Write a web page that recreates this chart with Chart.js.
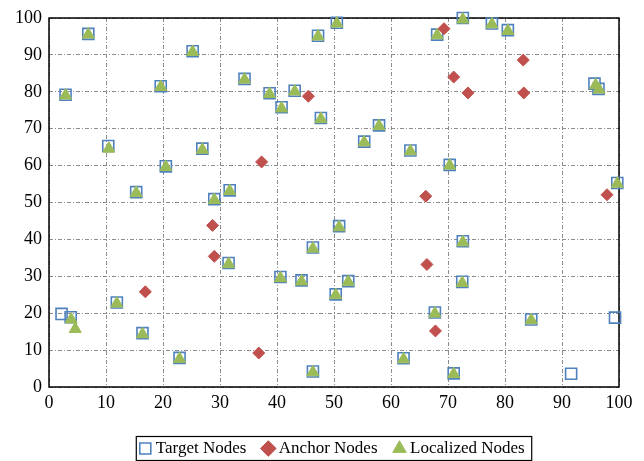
<!DOCTYPE html>
<html>
<head>
<meta charset="utf-8">
<script src="https://cdn.jsdelivr.net/npm/chart.js@4/dist/chart.umd.min.js"></script>
<style>
  html, body { margin: 0; padding: 0; background: #fff; }
</style>
</head>
<body>
<canvas id="c" width="644" height="461"></canvas>
<script>
// Axis ticks (both axes run 0..100 in steps of 10)
const xTicks = [0, 10, 20, 30, 40, 50, 60, 70, 80, 90, 100];
const yTicks = [0, 10, 20, 30, 40, 50, 60, 70, 80, 90, 100];

const seriesNames = ['Target Nodes', 'Anchor Nodes', 'Localized Nodes'];

// Target nodes (true positions)
const targetX = [2.9, 6.9, 10.4, 19.6, 25.2, 20.5, 26.9, 15.3, 29.0, 31.7, 34.3, 38.7, 40.8, 43.1, 47.2, 47.7, 50.5,
  68.1, 72.6, 77.7, 80.5, 95.7, 96.4, 57.9, 55.3, 63.4, 70.3, 99.7, 2.2, 3.8, 11.9, 16.4, 22.9, 31.5, 40.6, 44.3,
  46.3, 46.3, 50.9, 72.6, 52.5, 50.3, 72.5, 67.7, 84.6, 99.3, 62.2, 71.0, 91.6];
const targetY = [79.2, 95.7, 65.3, 81.5, 91.0, 59.8, 64.6, 52.8, 50.9, 53.3, 83.5, 79.6, 75.8, 80.3, 95.2, 72.9, 98.7,
  95.5, 100.0, 98.5, 96.7, 82.2, 80.8, 70.9, 66.5, 64.1, 60.2, 55.3, 19.8, 18.9, 22.9, 14.6, 7.9, 33.6, 29.8, 28.9,
  37.8, 4.2, 43.6, 39.5, 28.7, 25.1, 28.5, 20.2, 18.3, 18.8, 7.8, 3.7, 3.6];

// Anchor nodes (known positions)
const anchorX = [45.5, 37.3, 69.3, 83.2, 71.0, 73.5, 83.3, 66.1, 97.9, 16.9, 28.7, 29.0, 36.8, 66.3, 67.8];
const anchorY = [78.8, 61.0, 97.1, 88.6, 84.0, 79.7, 79.7, 51.7, 52.1, 25.8, 43.8, 35.4, 9.2, 33.2, 15.2];

// Localized nodes (estimated positions)
const localX = [2.9, 6.9, 10.5, 19.6, 25.2, 20.5, 26.9, 15.3, 29.0, 31.7, 34.3, 38.7, 40.8, 43.1, 47.2, 47.7, 50.5,
  68.1, 72.6, 77.7, 80.5, 95.9, 96.5, 57.9, 55.3, 63.4, 70.3, 99.7, 4.6, 3.9, 11.9, 16.4, 22.9, 31.5, 40.6, 44.3,
  46.3, 46.3, 50.9, 72.6, 52.5, 50.3, 72.5, 67.7, 84.6, 62.2, 71.0];
const localY = [79.0, 95.5, 64.6, 81.3, 90.8, 59.6, 64.3, 52.6, 50.7, 53.1, 83.3, 79.4, 75.5, 80.1, 95.0, 72.6, 98.5,
  95.3, 99.6, 98.3, 96.5, 81.8, 80.6, 70.7, 66.3, 63.9, 60.0, 55.1, 15.7, 18.3, 22.6, 14.3, 7.6, 33.3, 29.5, 28.6,
  37.5, 4.0, 43.3, 39.2, 28.5, 24.9, 28.2, 19.9, 18.1, 7.5, 3.5];

const toPoints = (xs, ys) => xs.map((x, i) => ({ x, y: ys[i] }));

const SERIF = "'Liberation Serif', 'Times New Roman', serif";

// Solid frame around the plot area
const framePlugin = {
  id: 'frame',
  beforeDatasetsDraw(chart) {
    const { ctx, chartArea: a } = chart;
    ctx.save();
    ctx.strokeStyle = '#000';
    ctx.lineWidth = 1.5;
    ctx.strokeRect(a.left, a.top, a.right - a.left, a.bottom - a.top);
    ctx.restore();
  }
};

// Box around the legend entries
const legendBoxPlugin = {
  id: 'legendBox',
  afterDraw(chart) {
    const boxes = chart.legend && chart.legend.legendHitBoxes;
    if (!boxes || !boxes.length) return;
    const left = Math.min(...boxes.map(b => b.left)) - 7;
    const right = Math.max(...boxes.map(b => b.left + b.width)) + 7;
    const top = Math.min(...boxes.map(b => b.top)) - 3.5;
    const bottom = Math.max(...boxes.map(b => b.top + b.height)) + 3.5;
    const { ctx } = chart;
    ctx.save();
    ctx.strokeStyle = '#000';
    ctx.lineWidth = 1.2;
    ctx.strokeRect(left, top, right - left, bottom - top);
    ctx.restore();
  }
};

const gridDash = [4, 2, 1, 2];

new Chart(document.getElementById('c'), {
  type: 'scatter',
  data: {
    datasets: [
      {
        label: seriesNames[0],
        data: toPoints(targetX, targetY),
        pointStyle: 'rect',
        pointRadius: 7.8,
        pointHoverRadius: 7.8,
        borderColor: '#4F81BD',
        backgroundColor: 'rgba(0,0,0,0)',
        pointBorderWidth: 1.6,
        order: 3,
        clip: false
      },
      {
        label: seriesNames[1],
        data: toPoints(anchorX, anchorY),
        pointStyle: 'rectRot',
        pointRadius: 6,
        pointHoverRadius: 6,
        borderColor: '#C0504D',
        backgroundColor: '#C0504D',
        pointBorderWidth: 1,
        order: 2,
        clip: false
      },
      {
        label: seriesNames[2],
        data: toPoints(localX, localY),
        pointStyle: 'triangle',
        pointRadius: 7,
        pointHoverRadius: 7,
        borderColor: '#9BBB59',
        backgroundColor: '#9BBB59',
        pointBorderWidth: 1,
        order: 1,
        clip: false
      }
    ]
  },
  options: {
    responsive: false,
    animation: false,
    devicePixelRatio: 1,
    layout: { padding: { top: 18, right: 25, left: 0, bottom: -6 } },
    plugins: {
      tooltip: { enabled: false },
      legend: {
        position: 'bottom',
        fullSize: false,
        align: 'center',
        labels: {
          usePointStyle: true,
          boxWidth: 4,
          boxHeight: 11,
          padding: 20,
          color: '#000',
          font: { family: SERIF, size: 17 },
          sort: (a, b) => a.datasetIndex - b.datasetIndex
        }
      }
    },
    scales: {
      x: {
        type: 'linear',
        min: 0,
        max: 100,
        afterBuildTicks: s => { s.ticks = xTicks.map(v => ({ value: v })); },
        afterFit: s => { s.height = 33; },
        ticks: { color: '#000', font: { family: SERIF, size: 18 }, padding: 5, maxRotation: 0 },
        grid: { color: '#8c8c8c', lineWidth: 1, drawTicks: false },
        border: { display: false, dash: gridDash }
      },
      y: {
        type: 'linear',
        min: 0,
        max: 100,
        afterBuildTicks: s => { s.ticks = yTicks.map(v => ({ value: v })); },
        afterFit: s => { s.width = 49; },
        ticks: { color: '#000', font: { family: SERIF, size: 18 }, padding: 7 },
        grid: { color: '#8c8c8c', lineWidth: 1, drawTicks: false },
        border: { display: false, dash: gridDash }
      }
    }
  },
  plugins: [framePlugin, legendBoxPlugin]
});
</script>
</body>
</html>
